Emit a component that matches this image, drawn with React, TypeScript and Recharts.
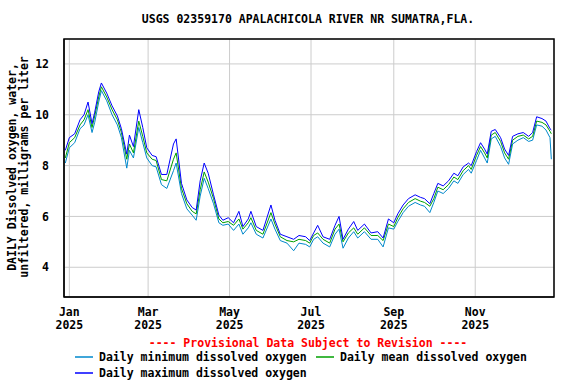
import {
  CartesianGrid,
  Line,
  LineChart,
  ReferenceArea,
  XAxis,
  YAxis,
} from "recharts";

// Day of year 2025 (0 = Jan 1)
const days = [
  -3, 0, 4, 8, 11, 14, 17, 19, 22, 24, 28, 32, 36, 39, 43, 45, 48, 52, 55, 58,
  62, 65, 69, 73, 78, 80, 84, 88, 92, 95, 98, 101, 104, 108, 112, 115, 119, 123,
  127, 130, 134, 136, 140, 145, 151, 154, 158, 163, 168, 172, 177, 180, 183,
  186, 190, 195, 199, 202, 205, 209, 213, 216, 221, 226, 231, 235, 239, 243,
  246, 250, 254, 259, 263, 266, 270, 273, 276, 280, 284, 288, 291, 295, 299,
  301, 305, 308, 311, 313, 316, 319, 323, 326, 329, 332, 336, 340, 344, 347,
  350, 354, 357, 360, 361,
];

const meanDO = [
  8.3, 8.9, 9.1, 9.6, 9.8, 10.2, 9.5, 9.95, 10.7, 11.1, 10.7, 10.2, 9.8, 9.3,
  8.25, 8.85, 8.5, 9.75, 9.15, 8.5, 8.25, 8.2, 7.45, 7.4, 8.25, 8.5, 7.1, 6.5,
  6.2, 6.1, 7.05, 7.75, 7.35, 6.7, 5.9, 5.75, 5.8, 5.65, 5.9, 5.5, 5.75, 5.95,
  5.45, 5.3, 6.15, 5.7, 5.2, 5.05, 5.0, 5.1, 5.05, 4.95, 5.25, 5.35, 5.1, 4.95,
  5.5, 5.7, 5.0, 5.35, 5.55, 5.3, 5.55, 5.25, 5.25, 5.05, 5.7, 5.6, 5.95, 6.3,
  6.55, 6.7, 6.6, 6.55, 6.4, 6.7, 7.15, 7.05, 7.25, 7.55, 7.45, 7.8, 8.0, 7.85,
  8.4, 8.75, 8.5, 8.3, 9.2, 9.3, 8.95, 8.5, 8.25, 9.0, 9.15, 9.2, 9.05, 9.15,
  9.75, 9.7, 9.6, 9.35, 9.25,
];

const minDO = [
  8.1, 8.7, 8.9, 9.45, 9.6, 10.0, 9.3, 9.7, 10.5, 10.95, 10.55, 10.0, 9.6, 9.1,
  7.9, 8.6, 8.3, 9.5, 8.9, 8.3, 8.0, 7.95, 7.25, 7.1, 7.8, 8.1, 6.9, 6.3, 6.05,
  5.85, 6.8, 7.5, 7.1, 6.5, 5.75, 5.65, 5.7, 5.45, 5.7, 5.3, 5.55, 5.75, 5.3,
  5.15, 5.9, 5.5, 5.05, 4.95, 4.65, 4.95, 4.9, 4.8, 5.1, 5.2, 4.95, 4.8, 5.3,
  5.5, 4.75, 5.15, 5.4, 5.15, 5.4, 5.1, 5.1, 4.8, 5.55, 5.5, 5.8, 6.15, 6.4,
  6.55, 6.45, 6.4, 6.15, 6.55, 7.0, 6.9, 7.1, 7.4, 7.3, 7.65, 7.85, 7.7, 8.2,
  8.6, 8.3, 8.1, 9.05, 9.15, 8.75, 8.3, 8.05, 8.85, 9.0, 9.1, 8.95, 9.0, 9.6,
  9.55, 9.4, 9.1, 8.25,
];

const maxDO = [
  8.6, 9.1, 9.25, 9.8, 10.0, 10.5, 9.65, 10.1, 10.9, 11.25, 10.85, 10.35, 9.95,
  9.45, 8.45, 9.2, 8.75, 10.2, 9.5, 8.7, 8.4, 8.35, 7.65, 7.65, 8.85, 9.05, 7.3,
  6.65, 6.35, 6.25, 7.4, 8.1, 7.7, 6.85, 6.05, 5.85, 5.95, 5.75, 6.2, 5.6, 5.9,
  6.2, 5.6, 5.45, 6.45, 5.85, 5.3, 5.2, 5.1, 5.25, 5.2, 5.05, 5.35, 5.65, 5.2,
  5.1, 5.65, 6.0, 5.1, 5.5, 5.8, 5.45, 5.7, 5.35, 5.4, 5.15, 5.9, 5.75, 6.1,
  6.45, 6.7, 6.85, 6.75, 6.7, 6.5, 6.9, 7.3, 7.2, 7.4, 7.7, 7.6, 7.95, 8.1, 8.0,
  8.55, 8.9, 8.65, 8.45, 9.35, 9.42, 9.1, 8.65, 8.4, 9.15, 9.25, 9.3, 9.15, 9.3,
  9.92, 9.85, 9.75, 9.45, 9.4,
];

const monthTicks = [0, 59, 120, 181, 243, 304];
const monthLabels = ["Jan", "Mar", "May", "Jul", "Sep", "Nov"];
const yTicks = [4, 6, 8, 10, 12];

const data = days.map((d, i) => ({
  d,
  min: minDO[i],
  mean: meanDO[i],
  max: maxDO[i],
}));

const FONT = "'DejaVu Sans Mono', 'Liberation Mono', monospace";
const X_DOMAIN: [number, number] = [-4, 363];
const Y_DOMAIN: [number, number] = [2.83, 12.98];

const colors = {
  min: "#0088cc",
  mean: "#00a000",
  max: "#0000ff",
  grid: "#cccccc",
};

// Two-line month / year label under each grid line
function MonthTick({ x, y, payload }: any) {
  const i = monthTicks.indexOf(payload.value);
  return (
    <g transform={`translate(${x},${y})`}>
      <text
        x={0}
        y={7}
        textAnchor="middle"
        dominantBaseline="central"
        fontFamily={FONT}
        fontWeight="bold"
        fontSize={11.5}
        fill="#000"
      >
        {monthLabels[i]}
      </text>
      <text
        x={0}
        y={20}
        textAnchor="middle"
        dominantBaseline="central"
        fontFamily={FONT}
        fontWeight="bold"
        fontSize={11.5}
        fill="#000"
      >
        2025
      </text>
    </g>
  );
}

function LegendItem({
  x,
  y,
  color,
  label,
}: {
  x: number;
  y: number;
  color: string;
  label: string;
}) {
  return (
    <g>
      <line x1={x} x2={x + 18} y1={y} y2={y} stroke={color} strokeWidth={1.5} />
      <text x={x + 24} y={y} dominantBaseline="central">
        {label}
      </text>
    </g>
  );
}

export default function App() {
  return (
    <div
      style={{
        position: "absolute",
        left: 0,
        top: 0,
        width: 576,
        height: 384,
        background: "#fff",
      }}
    >
      <LineChart
        width={576}
        height={384}
        data={data}
        margin={{ top: 39, right: 22, bottom: 47, left: 24 }}
      >
        <CartesianGrid stroke={colors.grid} strokeWidth={1} />
        <XAxis
          dataKey="d"
          type="number"
          domain={X_DOMAIN}
          ticks={monthTicks}
          tick={<MonthTick />}
          tickLine={false}
          axisLine={{ stroke: "#000" }}
          height={40}
          allowDataOverflow
        />
        <YAxis
          type="number"
          domain={Y_DOMAIN}
          ticks={yTicks}
          width={40}
          tickLine={false}
          axisLine={{ stroke: "#000" }}
          tickMargin={9}
          tick={{
            fill: "#000",
            fontSize: 11.5,
            fontFamily: FONT,
            fontWeight: "bold",
          }}
          allowDataOverflow
        />
        <Line
          dataKey="min"
          stroke={colors.min}
          strokeWidth={1}
          dot={false}
          type="linear"
          isAnimationActive={false}
        />
        <Line
          dataKey="mean"
          stroke={colors.mean}
          strokeWidth={1}
          dot={false}
          type="linear"
          isAnimationActive={false}
        />
        <Line
          dataKey="max"
          stroke={colors.max}
          strokeWidth={1}
          dot={false}
          type="linear"
          isAnimationActive={false}
        />
        <ReferenceArea
          x1={X_DOMAIN[0]}
          x2={X_DOMAIN[1]}
          y1={Y_DOMAIN[0]}
          y2={Y_DOMAIN[1]}
          fill="none"
          stroke="#000"
          strokeWidth={1.5}
          ifOverflow="visible"
        />
      </LineChart>

      {/* Title, axis label, provisional note and legend */}
      <svg
        width={576}
        height={384}
        style={{ position: "absolute", left: 0, top: 0, pointerEvents: "none" }}
        fontFamily={FONT}
        fontWeight="bold"
        fontSize={11.5}
      >
        <text x={308} y={19} textAnchor="middle" dominantBaseline="central">
          USGS 02359170 APALACHICOLA RIVER NR SUMATRA,FLA.
        </text>
        <text
          transform="translate(12,167) rotate(-90)"
          textAnchor="middle"
          dominantBaseline="central"
        >
          DAILY Dissolved oxygen, water,
        </text>
        <text
          transform="translate(24,167) rotate(-90)"
          textAnchor="middle"
          dominantBaseline="central"
        >
          unfiltered, milligrams per liter
        </text>
        <text
          x={308}
          y={343}
          textAnchor="middle"
          dominantBaseline="central"
          fill="#ff0000"
        >
          ---- Provisional Data Subject to Revision ----
        </text>
        <LegendItem x={75} y={357} color={colors.min} label="Daily minimum dissolved oxygen" />
        <LegendItem x={316} y={357} color={colors.mean} label="Daily mean dissolved oxygen" />
        <LegendItem x={75} y={373} color={colors.max} label="Daily maximum dissolved oxygen" />
      </svg>
    </div>
  );
}
